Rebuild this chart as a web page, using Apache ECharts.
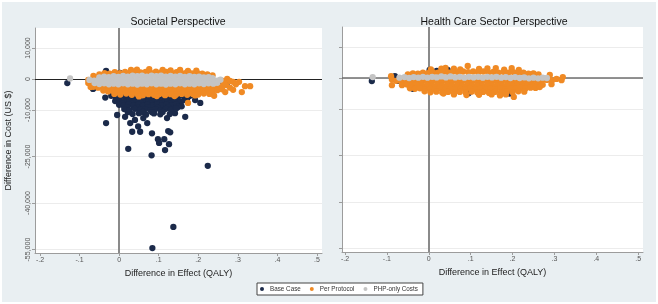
<!DOCTYPE html>
<html>
<head>
<meta charset="utf-8">
<script src="https://cdn.jsdelivr.net/npm/echarts@6/dist/echarts.min.js"></script>
<style>
  body { margin: 0; background: #fff; }
  #chart { width: 658px; height: 304px; }
</style>
</head>
<body>
<div id="chart"></div>
<script>
var seriesNames = ['Base Case', 'Per Protocol', 'PHP-only Costs'];
var xTicks = [-0.2, -0.1, 0, 0.1, 0.2, 0.3, 0.4, 0.5];
var yTicks = [10000, 0, -10000, -25000, -40000, -55000];

// Societal perspective, [difference in QALY, difference in cost]
var socBase = [
  [-0.131,-1300],[-0.066,-3200],[-0.066,-300],[-0.062,-2700],[-0.035,-6000],[-0.033,-14200],[-0.005,-11600],
  [0.023,-22500],[0.002,2000],[0.043,2000],[-0.033,2600],[0.015,-12200],[0.028,-14200],[0.033,-17000],
  [0.053,-17000],[0.083,-17500],[0.098,-19400],[0.101,-20600],[0.114,-19400],[0.116,-22900],[0.126,-21000],
  [0.124,-16800],[0.129,-17200],[0.082,-24600],[0.071,-14200],[0.141,-11000],[0.167,-12200],[0.205,-7700],
  [0.192,-6800],[0.154,-8400],[0.121,-12600],[0.061,-12600],[0.040,-13200],[0.224,-28000],[0.137,-47700],
  [0.084,-54500],[0.255,-600],[0.272,-1300],[0.048,-15300],[0.022,-10700],
  [-0.02,-5400],[-0.008,-5900],[0.005,-5500],[0.017,-6000],[0.03,-5600],[0.042,-5900],[0.055,-5500],
  [0.067,-6100],[0.079,-5600],[0.091,-5900],[0.104,-5500],[0.116,-6000],[0.128,-5600],[0.14,-5800],
  [0.152,-5400],[0.165,-5700],[0.178,-5500],[0.19,-5300],
  [-0.004,-6400],[0.024,-6500],[0.048,-6400],[0.073,-6600],[0.097,-6400],[0.12,-6500],[0.147,-6300],[0.172,-6200],
  [-0.01,-7100],[0.002,-6900],[0.014,-7300],[0.026,-6900],[0.038,-7200],[0.05,-7000],[0.062,-7400],
  [0.074,-6900],[0.086,-7200],[0.098,-7000],[0.11,-7300],[0.122,-6900],[0.134,-7100],[0.146,-6800],
  [0.158,-7200],[0.17,-6900],
  [0.008,-7800],[0.031,-7900],[0.055,-7700],[0.079,-7900],[0.103,-7800],[0.127,-7900],[0.151,-7700],
  [0.0,-8300],[0.012,-8600],[0.024,-8200],[0.036,-8600],[0.048,-8300],[0.06,-8700],[0.072,-8300],
  [0.084,-8600],[0.096,-8200],[0.108,-8500],[0.12,-8300],[0.132,-8600],[0.145,-8300],[0.158,-8800],
  [0.02,-9100],[0.046,-9200],[0.072,-9100],[0.098,-9200],[0.124,-9100],[0.149,-9000],
  [0.013,-9700],[0.026,-10000],[0.04,-9600],[0.053,-9900],[0.066,-9700],[0.079,-10100],[0.092,-9700],
  [0.105,-10000],[0.118,-9600],[0.131,-9900],[0.144,-9500],
  [0.034,-11300],[0.05,-11000],[0.068,-11500],[0.088,-11100],[0.104,-11400],[0.128,-11300],
  [0.06,-10600],[0.083,-10700],[0.11,-10600]
];
var socProtocol = [
  [-0.05,1500],[-0.037,1900],[-0.024,1700],[-0.011,2200],[0.002,1900],[0.015,2300],[0.028,2000],
  [0.041,2400],[0.054,2100],[0.067,2300],[0.08,2000],[0.093,2400],[0.106,2100],[0.119,2300],[0.132,2000],
  [0.145,2200],[0.158,1900],[0.171,2100],[0.184,1800],[0.197,2000],[0.21,1700],[0.223,1500],[0.236,1200],
  [0.076,3200],[0.154,2900],[0.174,2600],[0.03,2900],[0.11,2900],[0.045,3000],[0.13,2800],[0.195,2700],
  [-0.078,-300],[-0.078,-1300],[-0.068,-1900],[-0.072,-2600],[-0.06,500],[-0.065,1000],
  [-0.065,-2500],[-0.053,-2800],[-0.041,-2600],[-0.029,-2900],[-0.017,-2700],[-0.005,-2900],[0.007,-2600],
  [0.019,-2900],[0.031,-2700],[0.043,-3000],[0.055,-2700],[0.067,-2900],[0.079,-2600],[0.091,-2900],
  [0.103,-2700],[0.115,-3000],[0.127,-2700],[0.139,-2900],[0.151,-2600],[0.163,-2900],[0.175,-2700],
  [0.187,-2900],[0.199,-2600],[0.211,-2800],[0.223,-2600],[0.235,-2800],[0.247,-2500],[0.259,-2400],[0.27,-2000],
  [-0.04,-3700],[-0.028,-4000],[-0.016,-3800],[-0.004,-4100],[0.008,-3800],[0.02,-4100],[0.032,-3900],
  [0.044,-4200],[0.056,-3900],[0.068,-4100],[0.08,-3800],[0.092,-4100],[0.104,-3900],[0.116,-4200],
  [0.128,-3900],[0.14,-4100],[0.152,-3800],[0.164,-4000],[0.176,-3800],[0.188,-4100],[0.2,-3800],
  [0.212,-4000],[0.224,-3700],[0.236,-3900],[0.248,-3600],[0.26,-3300],
  [-0.012,-4800],[0.003,-5000],[0.018,-4700],[0.032,-5100],[0.046,-4800],[0.06,-5200],[0.074,-4900],
  [0.088,-5100],[0.102,-4800],[0.116,-5200],[0.13,-4900],[0.144,-5000],[0.158,-4800],[0.172,-5100],
  [0.186,-4800],[0.2,-5000],[0.214,-4700],[0.228,-4800],
  [0.05,-5600],[0.095,-5500],[0.14,-5500],[0.192,-5300],[0.174,-7700],[0.24,-5400],
  [0.273,0],[0.28,-600],[0.288,-900],[0.303,-900],[0.318,-2300],[0.331,-2300],[0.288,-3500],
  [0.31,-4200],[0.268,-4200],[0.28,-2800],[0.295,-1700],[0.262,-600],[0.265,-1400]
];
var socPhp = [
  [-0.05,500],[-0.038,800],[-0.026,600],[-0.014,900],[-0.002,700],[0.01,1000],[0.022,800],[0.034,1100],
  [0.046,900],[0.058,1100],[0.07,800],[0.082,1100],[0.094,900],[0.106,1100],[0.118,800],[0.13,1000],
  [0.142,800],[0.154,1000],[0.166,700],[0.178,900],[0.19,700],[0.202,800],[0.214,500],[0.226,600],[0.236,300],
  [-0.075,-300],[-0.063,-500],[-0.051,-200],[-0.039,-500],[-0.027,-300],[-0.015,-600],[-0.003,-300],
  [0.009,-500],[0.021,-200],[0.033,-500],[0.045,-300],[0.057,-500],[0.069,-200],[0.081,-500],[0.093,-300],
  [0.105,-500],[0.117,-200],[0.129,-500],[0.141,-300],[0.153,-500],[0.165,-200],[0.177,-500],[0.189,-300],
  [0.201,-500],[0.213,-300],[0.225,-500],[0.237,-300],[0.248,-500],[0.256,-200],
  [-0.062,-1300],[-0.05,-1600],[-0.038,-1400],[-0.026,-1700],[-0.014,-1500],[-0.002,-1700],[0.01,-1400],
  [0.022,-1700],[0.034,-1500],[0.046,-1800],[0.058,-1500],[0.07,-1700],[0.082,-1400],[0.094,-1700],
  [0.106,-1500],[0.118,-1800],[0.13,-1500],[0.142,-1700],[0.154,-1400],[0.166,-1700],[0.178,-1500],
  [0.19,-1700],[0.202,-1400],[0.214,-1600],[0.226,-1400],[0.238,-1500],[0.248,-1200],
  [-0.124,200]
];

// Health care sector perspective
var hcBase = [
  [-0.136,-1000],[-0.081,600],[-0.074,-900],[-0.067,-700],[-0.038,-3500],[-0.01,-3200],[0.002,2600],
  [0.019,2300],[0.045,2600],[0.017,-3500],[0.253,-2900],[0.277,-300],[0.193,-5000],[0.095,-4900]
];
var hcProtocol = [
  [0.093,3900],[0.16,3200],[0.198,3200],[0.248,1300],[0.005,2800],[0.03,3000],[0.06,3000],[0.12,2900],
  [0.14,3100],[0.18,2700],[0.215,2600],[0.04,3300],[0.075,2800],
  [-0.05,1200],[-0.038,1500],[-0.026,1400],[-0.014,1700],[-0.002,1600],[0.01,1900],[0.022,1700],
  [0.034,2000],[0.046,1800],[0.058,2100],[0.07,1800],[0.082,2100],[0.094,1900],[0.106,2100],[0.118,1800],
  [0.13,2100],[0.142,1800],[0.154,2000],[0.166,1700],[0.178,2000],[0.19,1700],[0.202,1900],[0.214,1600],
  [0.226,1700],[0.238,1400],[0.25,1500],[0.262,1200],
  [-0.09,600],[-0.088,-500],[-0.078,-900],[-0.066,-1100],[-0.054,-900],[-0.042,-1200],[-0.03,-1000],
  [-0.018,-1200],[-0.006,-900],[0.006,-1200],[0.018,-1000],[0.03,-1200],[0.042,-900],[0.054,-1200],
  [0.066,-1000],[0.078,-1200],[0.09,-900],[0.102,-1200],[0.114,-1000],[0.126,-1200],[0.138,-900],
  [0.15,-1200],[0.162,-1000],[0.174,-1200],[0.186,-900],[0.198,-1200],[0.21,-1000],[0.222,-1100],
  [0.234,-900],[0.246,-1100],[0.258,-800],[0.27,-900],[0.282,-600],[0.294,-800],[0.289,1000],
  [0.32,300],[0.317,-700],[0.305,-300],
  [-0.088,-2300],[-0.064,-2300],[-0.052,-2100],[-0.04,-2400],[-0.028,-2200],[-0.016,-2500],[-0.004,-2200],
  [0.008,-2500],[0.02,-2300],[0.032,-2500],[0.044,-2200],[0.056,-2500],[0.068,-2300],[0.08,-2500],
  [0.092,-2200],[0.104,-2500],[0.116,-2300],[0.128,-2500],[0.14,-2200],[0.152,-2500],[0.164,-2300],
  [0.176,-2500],[0.188,-2200],[0.2,-2400],[0.212,-2200],[0.224,-2400],[0.236,-2100],[0.248,-2300],
  [0.26,-2000],[0.272,-2200],[0.293,-2000],
  [-0.045,-3300],[-0.033,-3500],[-0.021,-3300],[-0.009,-3600],[0.003,-3400],[0.015,-3600],[0.027,-3300],
  [0.039,-3600],[0.051,-3400],[0.063,-3700],[0.075,-3400],[0.087,-3600],[0.099,-3300],[0.111,-3600],
  [0.123,-3400],[0.135,-3700],[0.147,-3400],[0.159,-3600],[0.171,-3300],[0.183,-3600],[0.195,-3400],
  [0.207,-3500],[0.219,-3200],[0.231,-3400],[0.243,-3100],[0.255,-3200],[0.265,-2900],
  [-0.01,-4300],[0.004,-4600],[0.018,-4400],[0.032,-4700],[0.046,-4500],[0.06,-4800],[0.074,-4500],
  [0.088,-4700],[0.102,-4400],[0.116,-4700],[0.13,-4500],[0.144,-4800],[0.158,-4500],[0.172,-4700],
  [0.186,-4400],[0.2,-4600],[0.214,-4300],[0.228,-4400],
  [0.184,-5300],[0.203,-6100],[0.06,-5300],[0.035,-5000],[0.12,-5400],[0.15,-5300],[0.09,-5500],[0.17,-5600]
];
var hcPhp = [
  [-0.07,100],[-0.058,300],[-0.047,0],[-0.036,300],[-0.025,100],[-0.014,400],[-0.003,100],[0.008,400],
  [0.019,200],[0.03,500],[0.041,200],[0.052,500],[0.063,200],[0.074,400],[0.085,100],[0.096,400],
  [0.107,200],[0.118,400],[0.129,100],[0.14,400],[0.151,200],[0.162,400],[0.173,100],[0.184,300],
  [0.195,0],[0.206,300],[0.217,0],[0.228,200],[0.239,-100],[0.25,100],[0.261,-100],[0.272,100],[0.282,0],
  [-0.134,300]
];

var colors = ['#1b2a4a', '#f08a24', '#c4c4c4'];
var axisGray = '#9c9c9c';
var font = '"Liberation Sans", Arial, sans-serif';

function xLabel(v) {
  if (v === 0) return '0';
  return (v < 0 ? '-' : '') + String(Math.abs(v)).replace(/^0/, '');
}
function yLabel(v) {
  return v.toLocaleString('en-US');
}

function makeX(idx, min, max) {
  return {
    type: 'value', gridIndex: idx, min: min, max: max,
    axisLine: { show: true, onZero: false, lineStyle: { color: axisGray } },
    axisTick: { show: true, customValues: xTicks, length: 3, lineStyle: { color: axisGray } },
    axisLabel: { customValues: xTicks, formatter: xLabel, fontSize: 7, color: '#555', margin: 4, fontFamily: font },
    splitLine: { show: false },
    name: 'Difference in Effect (QALY)', nameLocation: 'middle', nameGap: 13,
    nameTextStyle: { fontSize: 9, color: '#222', fontFamily: font }
  };
}
function makeY(idx, showLabels) {
  var ax = {
    type: 'value', gridIndex: idx, min: -56100, max: 16450,
    axisLine: { show: true, onZero: false, lineStyle: { color: axisGray } },
    axisTick: { show: true, customValues: yTicks, length: 3, lineStyle: { color: axisGray } },
    axisLabel: { show: showLabels, customValues: yTicks, formatter: yLabel, rotate: 90, fontSize: 7, color: '#555', margin: 3, fontFamily: font },
    splitLine: { show: true, lineStyle: { color: '#ececec', width: 1 } }
  };
  if (showLabels) {
    ax.name = 'Difference in Cost (US $)';
    ax.nameLocation = 'middle';
    ax.nameGap = 22;
    ax.nameTextStyle = { fontSize: 9, color: '#222', fontFamily: font };
  }
  return ax;
}

function zeroLines(hColor, hWidth) {
  return {
    silent: true, symbol: 'none', z: 1, animation: false,
    label: { show: false },
    data: [
      { yAxis: 0, lineStyle: { color: hColor, width: hWidth, type: 'solid' } },
      { xAxis: 0, lineStyle: { color: '#8a8a8a', width: 2, type: 'solid' } }
    ]
  };
}

function scatter(name, data, idx, color, extra) {
  var s = {
    name: name, type: 'scatter', data: data,
    xAxisIndex: idx, yAxisIndex: idx,
    symbol: 'circle', symbolSize: 6.3, z: 2,
    itemStyle: { color: color, opacity: 1 },
    emphasis: { disabled: true }
  };
  if (extra) s.markLine = extra;
  return s;
}

var chart = echarts.init(document.getElementById('chart'));
chart.setOption({
  animation: false,
  backgroundColor: '#e9eff2',
  textStyle: { fontFamily: font },
  graphic: [
    { type: 'rect', shape: { x: 0, y: 0, width: 658, height: 304 }, style: { fill: 'none', stroke: '#fff', lineWidth: 4 }, silent: true },
    { type: 'text', x: 178, y: 22, style: { text: 'Societal Perspective', fontSize: 10.5, fill: '#111', align: 'center', verticalAlign: 'middle', fontFamily: font } },
    { type: 'text', x: 494, y: 22, style: { text: 'Health Care Sector Perspective', fontSize: 10.5, fill: '#111', align: 'center', verticalAlign: 'middle', fontFamily: font } }
  ],
  legend: {
    data: seriesNames, left: 257, top: 283, orient: 'horizontal',
    backgroundColor: '#fff', borderColor: '#444', borderWidth: 1, borderRadius: 0,
    padding: [3, 5, 3, 3], itemWidth: 6, itemHeight: 4, itemGap: 9, icon: 'circle',
    textStyle: { fontSize: 6.3, color: '#333', fontFamily: font },
    selectedMode: false
  },
  grid: [
    { left: 35, top: 28, width: 287, height: 225, show: true, backgroundColor: '#fff', borderWidth: 0 },
    { left: 342, top: 27, width: 301, height: 225, show: true, backgroundColor: '#fff', borderWidth: 0 }
  ],
  xAxis: [makeX(0, -0.2126, 0.5126), makeX(1, -0.2072, 0.5115)],
  yAxis: [makeY(0, true), makeY(1, false)],
  series: [
    scatter(seriesNames[0], socBase, 0, colors[0], zeroLines('#222', 1)),
    scatter(seriesNames[1], socProtocol, 0, colors[1]),
    scatter(seriesNames[2], socPhp, 0, colors[2]),
    scatter(seriesNames[0], hcBase, 1, colors[0], zeroLines('#6e6e6e', 1.5)),
    scatter(seriesNames[1], hcProtocol, 1, colors[1]),
    scatter(seriesNames[2], hcPhp, 1, colors[2])
  ]
});
</script>
</body>
</html>
